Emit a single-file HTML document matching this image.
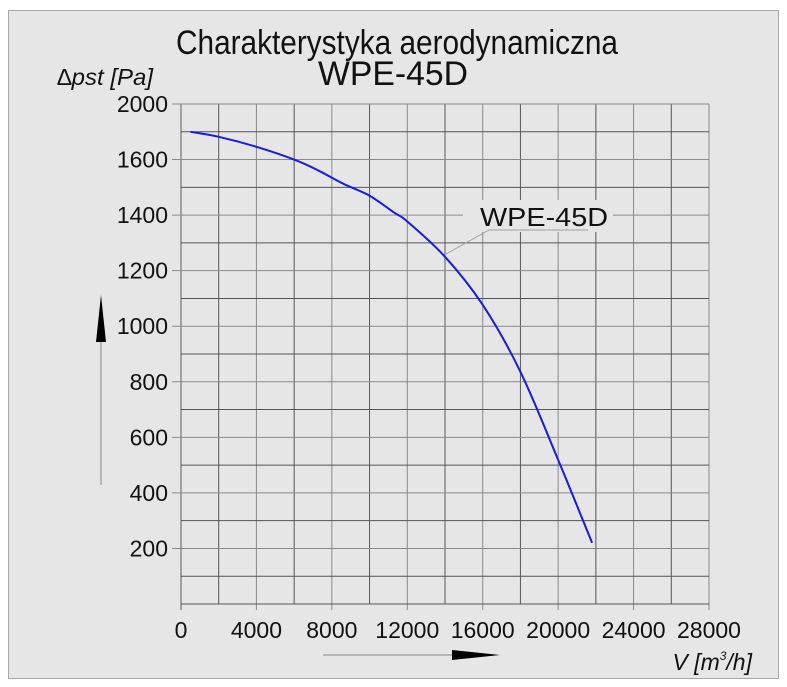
<!DOCTYPE html>
<html><head><meta charset="utf-8"><style>
html,body{margin:0;padding:0;background:#fff;}
svg{display:block;font-family:"Liberation Sans",sans-serif;}
</style></head><body>
<svg width="787" height="687" viewBox="0 0 787 687">
<rect x="8.5" y="10.5" width="770" height="668" fill="#e6e6e6" stroke="#a8a8a8"/>
<text x="397" y="54" font-size="34" text-anchor="middle" textLength="442" lengthAdjust="spacingAndGlyphs" fill="#111">Charakterystyka aerodynamiczna</text>
<text x="393" y="85" font-size="34" text-anchor="middle" textLength="150" lengthAdjust="spacingAndGlyphs" fill="#111">WPE-45D</text>
<text x="57" y="85" font-size="23" font-style="italic" textLength="96" lengthAdjust="spacingAndGlyphs" fill="#111">∆pst [Pa]</text>
<text x="752" y="670" font-size="23" font-style="italic" text-anchor="end" fill="#111">V [m<tspan font-size="12" dy="-10">3</tspan><tspan dy="10">/h]</tspan></text>
<g id="grid"></g>
<g id="ticks"></g>
<rect x="463" y="200" width="150" height="32" fill="#e6e6e6"/>
<polyline points="446,254 489,230 588,230" fill="none" stroke="#a0a0a0" stroke-width="1"/>
<text x="480" y="226" font-size="26" textLength="128" lengthAdjust="spacingAndGlyphs" fill="#111">WPE-45D</text>
<path id="curve" fill="none" stroke="#1a1ae0" stroke-width="2"/>
<line x1="101" y1="485" x2="101" y2="335" stroke="#888" stroke-width="1"/>
<polygon points="101,295 96,342 106,342" fill="#000"/>
<line x1="323" y1="655" x2="460" y2="655" stroke="#888" stroke-width="1"/>
<polygon points="500,655 452,650 452,660" fill="#000"/>
</svg>
<script>
const xTicks = [0,4000,8000,12000,16000,20000,24000,28000];
const yTickValues = [1800,1600,1400,1200,1000,800,600,400,200];
const yTickLabels = ["2000","1600","1400","1200","1000","800","600","400","200"];
const flowValues = [500,2000,4000,6000,7300,8600,10000,11300,12000,14000,16000,18000,20000,21800];
const pressureValues = [1700,1682,1646,1600,1560,1513,1470,1409,1377,1250,1077,836,519,220];
const X0=181, X1=709, Y0=604, Y1=104;
function sx(v){return X0+(v/28000)*(X1-X0);}
function sy(v){return Y0-(v/1800)*(Y0-Y1);}
const NS="http://www.w3.org/2000/svg";
const grid=document.getElementById('grid');
const ticks=document.getElementById('ticks');
for(let v=0;v<=28000;v+=2000){
  const l=document.createElementNS(NS,'line');
  
  
  l.setAttribute('x1',sx(v));l.setAttribute('x2',sx(v));
  l.setAttribute('y1',Y1);l.setAttribute('y2',Y0+(v%4000===0?6:0));
  l.setAttribute('stroke',v%4000===0?'#8a8a8a':'#555');
  l.setAttribute('stroke-width',v===0?1.5:1);
  grid.appendChild(l);
}
for(let v=0;v<=1800;v+=100){
  const l=document.createElementNS(NS,'line');
  
  
  const major=v%200===0 && v>0;
  l.setAttribute('x1',major?172:X0);l.setAttribute('x2',X1);
  l.setAttribute('y1',sy(v));l.setAttribute('y2',sy(v));
  l.setAttribute('stroke',major?'#8a8a8a':'#555');
  l.setAttribute('stroke-width',1);
  grid.appendChild(l);
}
xTicks.forEach(v=>{
  const t=document.createElementNS(NS,'text');
  
  
  t.setAttribute('x',sx(v));t.setAttribute('y',638);
  t.setAttribute('font-size','23');t.setAttribute('text-anchor','middle');t.setAttribute('fill','#111');
  t.textContent=v;ticks.appendChild(t);
});
yTickValues.forEach((v,i)=>{
  const t=document.createElementNS(NS,'text');
  
  
  t.setAttribute('x',168);t.setAttribute('y',sy(v)+8);
  t.setAttribute('font-size','23');t.setAttribute('text-anchor','end');t.setAttribute('fill','#111');
  t.textContent=yTickLabels[i];ticks.appendChild(t);
});
const pts=flowValues.map((v,i)=>[sx(v),sy(pressureValues[i])]);
let d='M'+pts[0][0].toFixed(1)+','+pts[0][1].toFixed(1);
for(let i=0;i<pts.length-1;i++){
  const p0=pts[Math.max(0,i-1)],p1=pts[i],p2=pts[i+1],p3=pts[Math.min(pts.length-1,i+2)];
  const c1=[p1[0]+(p2[0]-p0[0])/6,p1[1]+(p2[1]-p0[1])/6];
  const c2=[p2[0]-(p3[0]-p1[0])/6,p2[1]-(p3[1]-p1[1])/6];
  d+='C'+c1[0].toFixed(1)+','+c1[1].toFixed(1)+' '+c2[0].toFixed(1)+','+c2[1].toFixed(1)+' '+p2[0].toFixed(1)+','+p2[1].toFixed(1);
}
document.getElementById('curve').setAttribute('d',d);
</script>
</body></html>
